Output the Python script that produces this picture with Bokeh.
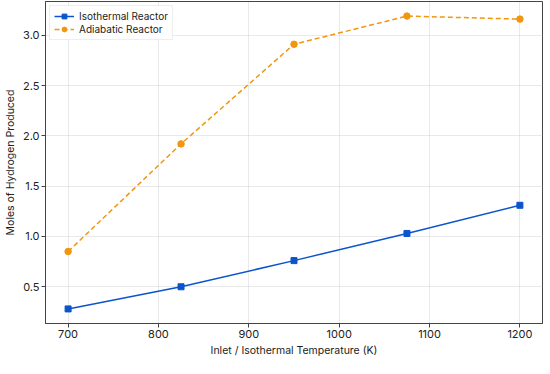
from bokeh.plotting import figure
from bokeh.embed import file_html
from bokeh.resources import INLINE
from bokeh.models import Range1d, FixedTicker, Legend, LegendItem, NumeralTickFormatter

temps = [700, 825, 950, 1075, 1200]
isothermal = [0.28, 0.50, 0.76, 1.03, 1.31]
adiabatic = [0.85, 1.92, 2.91, 3.19, 3.16]
x_ticks = [700, 800, 900, 1000, 1100, 1200]
y_ticks = [0.5, 1.0, 1.5, 2.0, 2.5, 3.0]

FONT = "Inter"
blue = "#0a55cc"
orange = "#f0960f"

p = figure(frame_width=497, frame_height=322, output_backend="svg", toolbar_location=None,
           x_range=Range1d(675, 1225), y_range=Range1d(0.135, 3.335))
p.min_border_left = 0
p.min_border_right = 3
p.min_border_top = 1
p.min_border_bottom = 0

p.xaxis.ticker = FixedTicker(ticks=x_ticks)
p.yaxis.ticker = FixedTicker(ticks=y_ticks)
p.yaxis.formatter = NumeralTickFormatter(format="0.0")
for ax in (p.xaxis, p.yaxis):
    ax.major_label_text_font = FONT
    ax.major_label_text_font_size = "11px"
    ax.major_label_text_color = "#222222"
    ax.axis_label_text_font = FONT
    ax.axis_label_text_font_size = "10.5px"
    ax.axis_label_text_font_style = "normal"
    ax.axis_label_text_color = "#222222"
    ax.minor_tick_line_color = None
    ax.major_tick_out = 4
    ax.major_tick_in = 0
    ax.axis_line_color = "#444444"
    ax.major_tick_line_color = "#444444"
    ax.major_label_standoff = 2
    ax.axis_label_standoff = 3
p.xaxis.axis_label = "Inlet / Isothermal Temperature (K)"
p.yaxis.axis_label = "Moles of Hydrogen Produced"

p.outline_line_color = "#444444"
p.outline_line_width = 1
p.grid.grid_line_color = "#c8c8c8"
p.grid.grid_line_dash = "1 1"
p.grid.grid_line_width = 0.8

l1 = p.line(temps, isothermal, line_color=blue, line_width=1.5)
m1 = p.scatter(temps, isothermal, marker="square", size=6, fill_color=blue, line_color=blue)
l2 = p.line(temps, adiabatic, line_color=orange, line_width=1.5, line_dash="5 3")
m2 = p.scatter(temps, adiabatic, marker="circle", size=6.5, fill_color=orange, line_color=orange)

legend = Legend(items=[LegendItem(label="Isothermal Reactor", renderers=[l1, m1]),
                       LegendItem(label="Adiabatic Reactor", renderers=[l2, m2])],
                location="top_left")
legend.label_text_font = FONT
legend.label_text_font_size = "10px"
legend.label_text_color = "#222222"
legend.glyph_width = 20
legend.glyph_height = 12
legend.label_height = 12
legend.spacing = 1
legend.padding = 4
legend.margin = 4
legend.border_line_color = "#dddddd"
legend.label_standoff = 5
p.add_layout(legend)

open("out.html", "w").write(file_html(p, INLINE))
